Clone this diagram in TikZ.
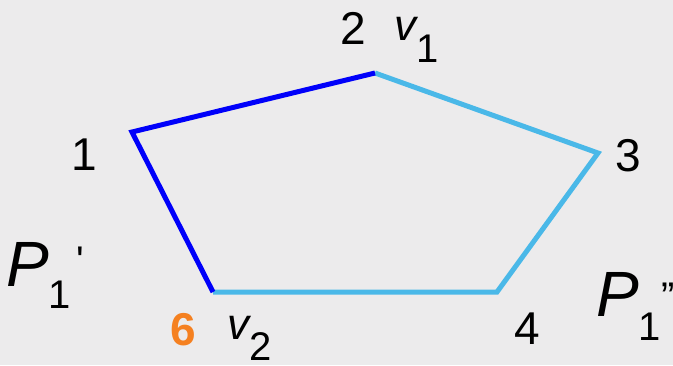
\documentclass[tikz,border=0pt]{standalone}
\usepackage{fontspec}
\setmainfont{Liberation Sans}
\usetikzlibrary{positioning}
\definecolor{puzzlebg}{RGB}{236,235,236}
\definecolor{edgedark}{RGB}{0,0,250}
\definecolor{edgelight}{RGB}{74,184,232}
\definecolor{sixorange}{RGB}{245,128,32}
\tikzset{
  numlabel/.style={font=\fontsize{46}{46}\selectfont,inner sep=0pt,anchor=base},
  varlabel/.style={font=\fontsize{44}{44}\selectfont,inner sep=0pt,anchor=base west},
  plabel/.style={font=\fontsize{64}{64}\selectfont,inner sep=0pt,anchor=base west},
  darkedge/.style={draw=edgedark,line width=5pt,line join=miter},
  lightedge/.style={draw=edgelight,line width=5pt,line join=miter},
}
\newcommand{\lowsub}[2]{\raisebox{-#1}{\fontsize{40}{40}\selectfont\upshape #2}}

\begin{document}
\begin{tikzpicture}[x=1pt,y=-1pt]
  \fill[puzzlebg] (0,0) rectangle (673,365);
  \useasboundingbox (0,0) rectangle (673,365);
  % polygon corners
  \coordinate (c1) at (132,132);
  \coordinate (c2) at (375,73);
  \coordinate (c3) at (598,153);
  \coordinate (c4) at (497,292);
  \coordinate (c6) at (213,292);
  \draw[lightedge] (c2) -- (c3) -- (c4) -- (c6);
  \draw[darkedge] (c6) -- (c1) -- (c2);
  % corner numbers
  \node[numlabel] (n1) at (84,170) {1};
  \node[numlabel] (n2) at (353,44) {2};
  \node[numlabel] (n3) at (628,171) {3};
  \node[numlabel] (n4) at (527,344) {4};
  \node[numlabel,text=sixorange,font=\fontsize{46}{46}\selectfont\bfseries] (n6) at (183,345) {6};
  % v labels
  \node[varlabel] (va) at (394,40) {\itshape v\lowsub{22pt}{1}};
  \node[varlabel] (vb) at (227,339) {\itshape v\lowsub{21pt}{2}};
  % path labels
  \node[plabel] (pa) at (6,286) {\itshape P\lowsub{22pt}{1}\hspace{5pt}\raisebox{12pt}{\fontsize{40}{40}\selectfont\upshape\textquotesingle}};
  \node[plabel] (pb) at (596,316) {\itshape P\lowsub{24pt}{1}\raisebox{6pt}{\fontsize{40}{40}\selectfont\upshape ”}};
\end{tikzpicture}
\end{document}
